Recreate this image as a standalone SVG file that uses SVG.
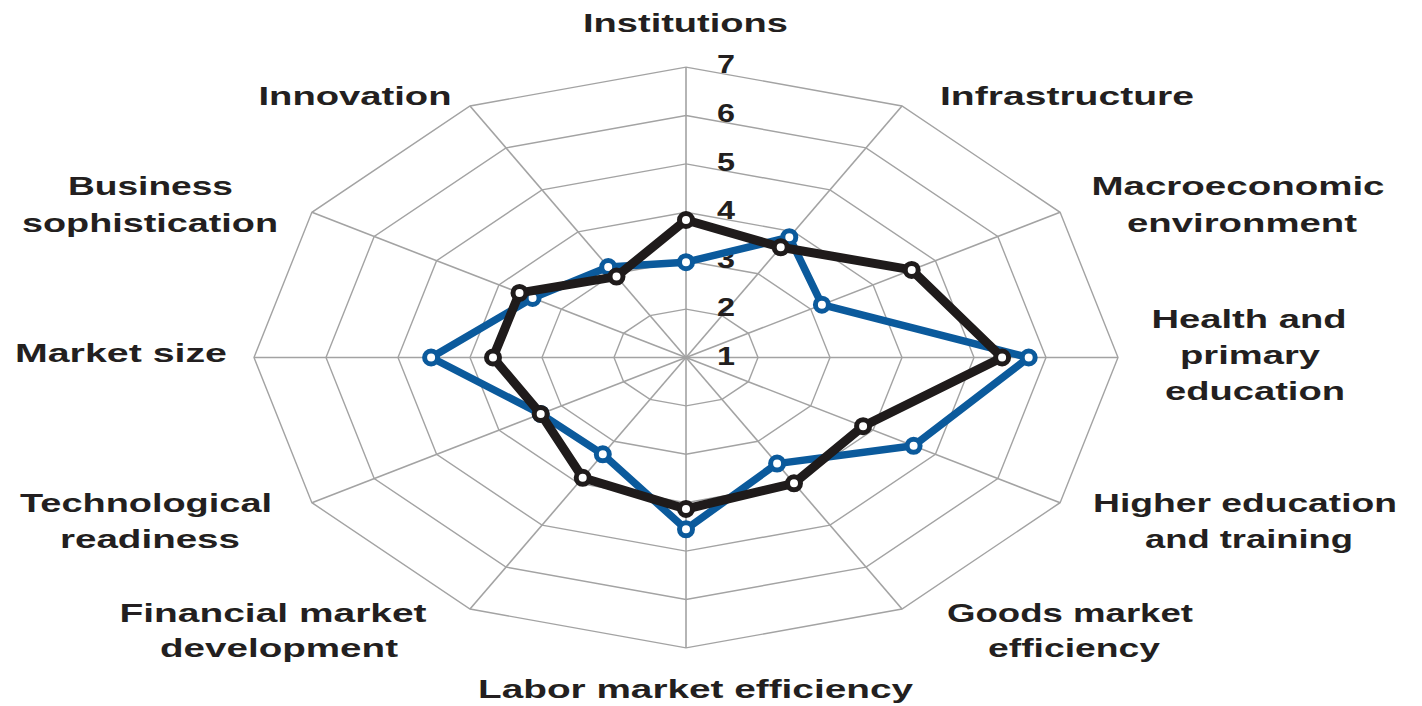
<svg xmlns="http://www.w3.org/2000/svg" width="1422" height="706" viewBox="0 0 1422 706">
<style>
.grid{fill:none;stroke:#a3a3a3;stroke-width:1.4}
.axis{stroke:#a3a3a3;stroke-width:1.6}
.lbl{font-family:"Liberation Sans",Arial,sans-serif;font-weight:bold;font-size:25px;fill:#231f20;text-anchor:middle}
.num{font-family:"Liberation Sans",Arial,sans-serif;font-weight:bold;font-size:25px;fill:#231f20;text-anchor:middle}
.sb{fill:none;stroke:#0b5a9c;stroke-width:7.5;stroke-linejoin:round}
.sk{fill:none;stroke:#1f1b1b;stroke-width:9;stroke-linejoin:round}
.mb{fill:#fff;stroke:#0b5a9c;stroke-width:5}
.mk{fill:#fff;stroke:#1f1b1b;stroke-width:5}
</style>
<rect width="1422" height="706" fill="#fff"/>
<g id="grid">
<polygon class="grid" points="686,309.1 722,315.6 748.4,333.3 758,357.5 748.4,381.7 722,399.4 686,405.9 650,399.4 623.6,381.7 614,357.5 623.6,333.3 650,315.6"/>
<polygon class="grid" points="686,260.7 758,273.7 810.7,309.1 830,357.5 810.7,405.9 758,441.3 686,454.3 614,441.3 561.3,405.9 542,357.5 561.3,309.1 614,273.7"/>
<polygon class="grid" points="686,212.3 794,231.8 873.1,284.9 902,357.5 873.1,430.1 794,483.2 686,502.7 578,483.2 498.9,430.1 470,357.5 498.9,284.9 578,231.8"/>
<polygon class="grid" points="686,163.9 830,189.8 935.4,260.7 974,357.5 935.4,454.3 830,525.2 686,551.1 542,525.2 436.6,454.3 398,357.5 436.6,260.7 542,189.8"/>
<polygon class="grid" points="686,115.5 866,147.9 997.8,236.5 1046,357.5 997.8,478.5 866,567.1 686,599.5 506,567.1 374.2,478.5 326,357.5 374.2,236.5 506,147.9"/>
<polygon class="grid" points="686,67.1 902,106 1060.1,212.3 1118,357.5 1060.1,502.7 902,609 686,647.9 470,609 311.9,502.7 254,357.5 311.9,212.3 470,106"/>
<line class="axis" x1="686" y1="357.5" x2="686" y2="67.1"/>
<line class="axis" x1="686" y1="357.5" x2="902" y2="106"/>
<line class="axis" x1="686" y1="357.5" x2="1060.1" y2="212.3"/>
<line class="axis" x1="686" y1="357.5" x2="1118" y2="357.5"/>
<line class="axis" x1="686" y1="357.5" x2="1060.1" y2="502.7"/>
<line class="axis" x1="686" y1="357.5" x2="902" y2="609"/>
<line class="axis" x1="686" y1="357.5" x2="686" y2="647.9"/>
<line class="axis" x1="686" y1="357.5" x2="470" y2="609"/>
<line class="axis" x1="686" y1="357.5" x2="311.9" y2="502.7"/>
<line class="axis" x1="686" y1="357.5" x2="254" y2="357.5"/>
<line class="axis" x1="686" y1="357.5" x2="311.9" y2="212.3"/>
<line class="axis" x1="686" y1="357.5" x2="470" y2="106"/>
</g>
<g id="scale">
<text class="num" x="726" y="365" textLength="18" lengthAdjust="spacingAndGlyphs">1</text>
<text class="num" x="726" y="316" textLength="18" lengthAdjust="spacingAndGlyphs">2</text>
<text class="num" x="726" y="268" textLength="18" lengthAdjust="spacingAndGlyphs">3</text>
<text class="num" x="726" y="219" textLength="18" lengthAdjust="spacingAndGlyphs">4</text>
<text class="num" x="726" y="171" textLength="18" lengthAdjust="spacingAndGlyphs">5</text>
<text class="num" x="726" y="122" textLength="18" lengthAdjust="spacingAndGlyphs">6</text>
<text class="num" x="726" y="73" textLength="18" lengthAdjust="spacingAndGlyphs">7</text>
</g>
<g id="connectors">
<polygon class="sb" points="686,262.2 789.3,237.2 821.9,304.7 1028.7,357.5 913.6,445.8 777.1,463.6 686,529.3 602.8,454.3 540.7,413.9 431.1,357.5 532.6,298 608.2,267"/>
<g id="blue-markers">
<circle class="mb" cx="686" cy="262.2" r="6.5"/>
<circle class="mb" cx="789.3" cy="237.2" r="6.5"/>
<circle class="mb" cx="821.9" cy="304.7" r="6.5"/>
<circle class="mb" cx="1028.7" cy="357.5" r="6.5"/>
<circle class="mb" cx="913.6" cy="445.8" r="6.5"/>
<circle class="mb" cx="777.1" cy="463.6" r="6.5"/>
<circle class="mb" cx="686" cy="529.3" r="6.5"/>
<circle class="mb" cx="602.8" cy="454.3" r="6.5"/>
<circle class="mb" cx="540.7" cy="413.9" r="6.5"/>
<circle class="mb" cx="431.1" cy="357.5" r="6.5"/>
<circle class="mb" cx="532.6" cy="298" r="6.5"/>
<circle class="mb" cx="608.2" cy="267" r="6.5"/>
</g>
<polygon class="sk" points="686,220 780.7,247.3 911.7,269.9 1002.1,357.5 863.1,426.2 794,483.3 686,509 582.7,477.8 540.7,413.9 493,357.5 519.5,292.9 616.5,276.6"/>
<g id="black-markers">
<circle class="mk" cx="686" cy="220" r="6.5"/>
<circle class="mk" cx="780.7" cy="247.3" r="6.5"/>
<circle class="mk" cx="911.7" cy="269.9" r="6.5"/>
<circle class="mk" cx="1002.1" cy="357.5" r="6.5"/>
<circle class="mk" cx="863.1" cy="426.2" r="6.5"/>
<circle class="mk" cx="794" cy="483.3" r="6.5"/>
<circle class="mk" cx="686" cy="509" r="6.5"/>
<circle class="mk" cx="582.7" cy="477.8" r="6.5"/>
<circle class="mk" cx="540.7" cy="413.9" r="6.5"/>
<circle class="mk" cx="493" cy="357.5" r="6.5"/>
<circle class="mk" cx="519.5" cy="292.9" r="6.5"/>
<circle class="mk" cx="616.5" cy="276.6" r="6.5"/>
</g>
</g>
<g id="n-institutions"><text class="lbl" x="685.5" y="32" textLength="205" lengthAdjust="spacingAndGlyphs">Institutions</text></g>
<g id="n-infrastructure"><text class="lbl" x="1067" y="105" textLength="254" lengthAdjust="spacingAndGlyphs">Infrastructure</text></g>
<g id="n-macro">
<text class="lbl" x="1238" y="195" textLength="293" lengthAdjust="spacingAndGlyphs">Macroeconomic</text>
<text class="lbl" x="1242" y="232" textLength="230" lengthAdjust="spacingAndGlyphs">environment</text>
</g>
<g id="n-health">
<text class="lbl" x="1249" y="328" textLength="195" lengthAdjust="spacingAndGlyphs">Health and</text>
<text class="lbl" x="1250" y="364" textLength="140" lengthAdjust="spacingAndGlyphs">primary</text>
<text class="lbl" x="1255" y="400" textLength="180" lengthAdjust="spacingAndGlyphs">education</text>
</g>
<g id="n-higher">
<text class="lbl" x="1245" y="512" textLength="304" lengthAdjust="spacingAndGlyphs">Higher education</text>
<text class="lbl" x="1249" y="548" textLength="208" lengthAdjust="spacingAndGlyphs">and training</text>
</g>
<g id="n-goods">
<text class="lbl" x="1070" y="622" textLength="246" lengthAdjust="spacingAndGlyphs">Goods market</text>
<text class="lbl" x="1074" y="657" textLength="172" lengthAdjust="spacingAndGlyphs">efficiency</text>
</g>
<g id="n-labor"><text class="lbl" x="695.5" y="698" textLength="435" lengthAdjust="spacingAndGlyphs">Labor market efficiency</text></g>
<g id="n-financial">
<text class="lbl" x="273" y="622" textLength="307" lengthAdjust="spacingAndGlyphs">Financial market</text>
<text class="lbl" x="279" y="657" textLength="238" lengthAdjust="spacingAndGlyphs">development</text>
</g>
<g id="n-tech">
<text class="lbl" x="146" y="512" textLength="252" lengthAdjust="spacingAndGlyphs">Technological</text>
<text class="lbl" x="150" y="548" textLength="180" lengthAdjust="spacingAndGlyphs">readiness</text>
</g>
<g id="n-market"><text class="lbl" x="121" y="362" textLength="212" lengthAdjust="spacingAndGlyphs">Market size</text></g>
<g id="n-business">
<text class="lbl" x="150.5" y="195" textLength="165" lengthAdjust="spacingAndGlyphs">Business</text>
<text class="lbl" x="150" y="232" textLength="256" lengthAdjust="spacingAndGlyphs">sophistication</text>
</g>
<g id="n-innovation"><text class="lbl" x="355" y="105" textLength="193" lengthAdjust="spacingAndGlyphs">Innovation</text></g>
</svg>
